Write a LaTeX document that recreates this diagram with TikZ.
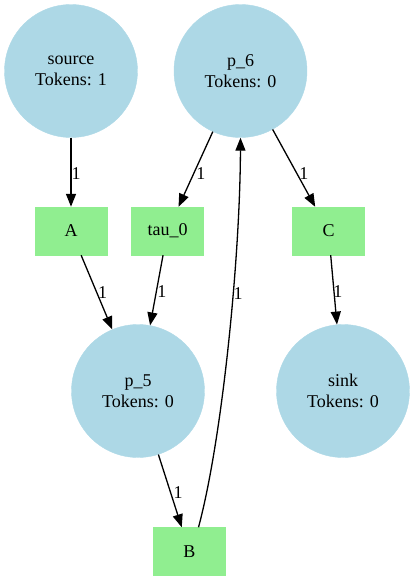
\documentclass[tikz,border=0pt]{standalone}
\usepackage{fontspec}
\setmainfont{Liberation Serif}
\usetikzlibrary{arrows.meta}
\definecolor{placeblue}{RGB}{173,216,230}
\definecolor{transgreen}{RGB}{144,238,144}
\begin{document}
\begin{tikzpicture}[x=1pt,y=-1pt,
  every node/.style={font=\fontsize{18}{21}\selectfont},
  place/.style={circle,fill=placeblue,draw=placeblue,minimum size=133pt,inner sep=0pt,align=center},
  trans/.style={rectangle,fill=transgreen,draw=transgreen,minimum width=72pt,minimum height=48pt,inner sep=0pt},
  arc/.style={line width=1.3pt,-{Triangle[length=13pt,width=10pt]}},
  lbl/.style={inner sep=0pt,fill=none}
]
\useasboundingbox (0,0) rectangle (415,581);
\node[place] (source) at (71,71) {source\\Tokens: 1};
\node[place] (p6) at (240.5,71) {p\_6\\Tokens: 0};
\node[trans] (A) at (71,231) {A};
\node[trans] (tau0) at (167.5,231) {tau\_0};
\node[trans] (C) at (328.5,231) {C};
\node[place] (p5) at (138,391) {p\_5\\Tokens: 0};
\node[place] (sink) at (343,391) {sink\\Tokens: 0};
\node[trans] (B) at (189.5,551.5) {B};

\draw[arc] (source) -- node[lbl,pos=0.5,xshift=5pt,yshift=-1pt] (l1) {1} (A);
\draw[arc] (p6) -- node[lbl,pos=0.5,xshift=5.3pt,yshift=-4.8pt] (l2) {1} (tau0);
\draw[arc] (p6) -- node[lbl,pos=0.5,xshift=10pt,yshift=-5pt] (l3) {1} (C);
\draw[arc] (A) -- node[lbl,pos=0.5,xshift=6pt,yshift=0pt] (l4) {1} (p5);
\draw[arc] (tau0) -- node[lbl,pos=0.5,xshift=5.4pt,yshift=-1.7pt] (l5) {1} (p5);
\draw[arc] (C) -- node[lbl,pos=0.5,xshift=4pt,yshift=-2pt] (l6) {1} (sink);
\draw[arc] (p5) -- node[lbl,pos=0.5,xshift=8pt,yshift=-2pt] (l7) {1} (B);
\draw[arc] ([xshift=9pt]B.north) .. controls (222,440) and (240,260) .. node[lbl,pos=0.62,xshift=5pt] (l8) {1} (p6.south);
\end{tikzpicture}
\end{document}
